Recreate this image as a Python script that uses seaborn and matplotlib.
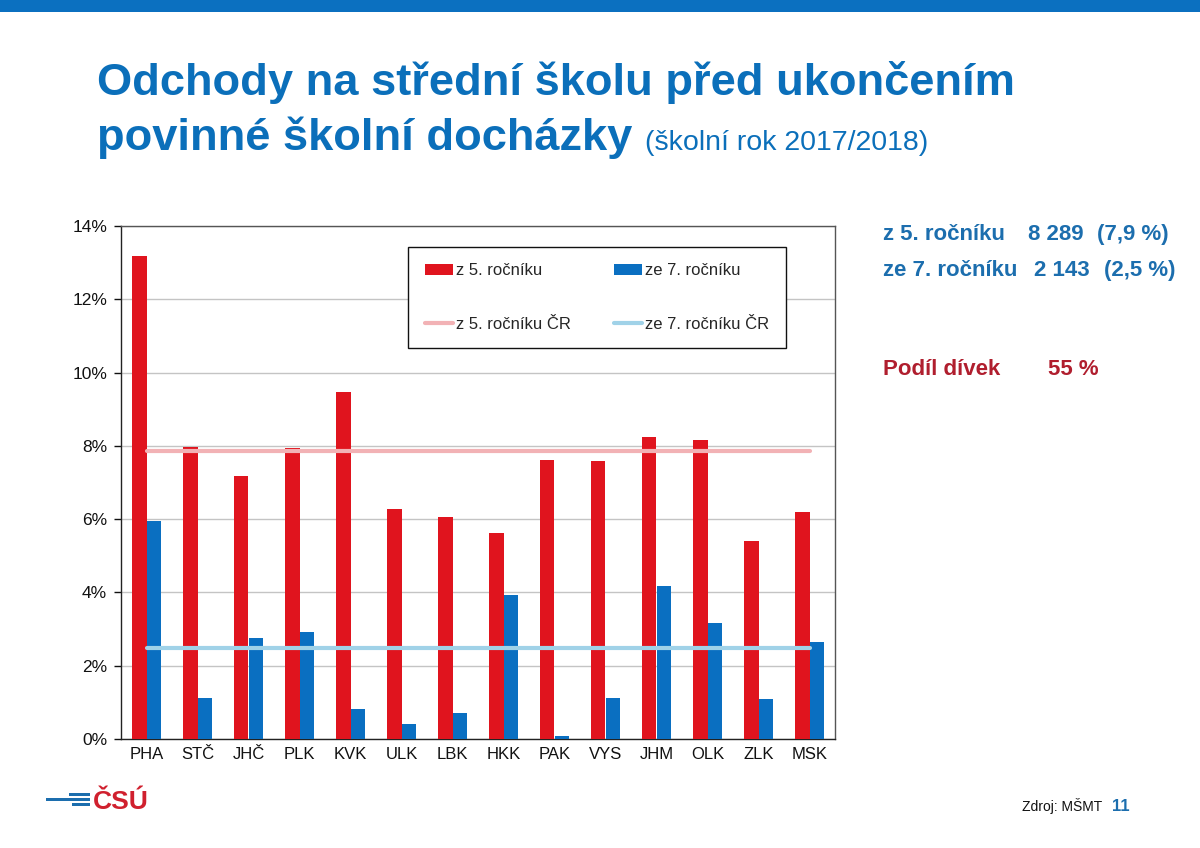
import numpy as np
import pandas as pd
import matplotlib
matplotlib.use('Agg')
import matplotlib.pyplot as plt
from matplotlib.patches import Rectangle, Patch
from matplotlib.lines import Line2D
import matplotlib.ticker as mticker
import seaborn as sns

# --- data ---
regions = ['PHA', 'STČ', 'JHČ', 'PLK', 'KVK', 'ULK', 'LBK',
           'HKK', 'PAK', 'VYS', 'JHM', 'OLK', 'ZLK', 'MSK']
z5 = [13.18, 7.96, 7.18, 7.94, 9.47, 6.27, 6.07,
      5.62, 7.62, 7.60, 8.24, 8.16, 5.40, 6.20]
ze7 = [5.96, 1.12, 2.76, 2.92, 0.81, 0.41, 0.71,
       3.93, 0.07, 1.11, 4.17, 3.17, 1.08, 2.65]
cr_z5 = 7.87
cr_ze7 = 2.47

series_names = ['z 5. ročníku', 'ze 7. ročníku']
line_names = ['z 5. ročníku ČR', 'ze 7. ročníku ČR']
y_ticks = [0, 2, 4, 6, 8, 10, 12, 14]

RED = '#E0141E'
BLUE = '#0A6FC1'
PINK = '#F2B2B5'
LBLUE = '#A0D2E8'
TITLE_BLUE = '#0B6FBA'
TXT_BLUE = '#1C6EAE'
DARK_RED = '#B01E2E'

df = pd.DataFrame({
    'kraj': regions * 2,
    'hodnota': z5 + ze7,
    'serie': [series_names[0]] * len(regions) + [series_names[1]] * len(regions),
})

sns.set_theme(style='white')
plt.rcParams['font.family'] = ['Liberation Sans', 'DejaVu Sans']

W, H = 1200, 848
fig = plt.figure(figsize=(W / 100, H / 100), dpi=100)
ax = fig.add_axes([121 / W, 1 - 739 / H, (835 - 121) / W, (739 - 226) / H])

sns.barplot(data=df, x='kraj', y='hodnota', hue='serie', order=regions,
            hue_order=series_names, palette=[RED, BLUE], width=0.57,
            saturation=1, linewidth=0, edgecolor='none',
            ax=ax, legend=False, zorder=3)

# national averages (ČR)
xs = np.arange(len(regions))
ax.plot(xs, [cr_z5] * len(regions), color=PINK, lw=3, zorder=4)
ax.plot(xs, [cr_ze7] * len(regions), color=LBLUE, lw=3, zorder=4)

ax.set_xlim(-0.5, len(regions) - 0.5)
ax.set_ylim(0, 14)
ax.set_yticks(y_ticks)
ax.yaxis.set_major_formatter(mticker.FuncFormatter(lambda v, p: f'{v:.0f}%'))
ax.yaxis.grid(True, color='#C4C4C4', lw=1, zorder=0)
ax.set_axisbelow(True)
ax.set_xlabel('')
ax.set_ylabel('')
ax.tick_params(axis='x', which='major', length=0, labelsize=12, pad=6, colors='#111111')
ax.set_xticks(np.arange(-0.5, len(regions), 1), minor=True)
ax.tick_params(axis='x', which='minor', length=5, width=1, direction='out', color='#333333')
ax.tick_params(axis='y', length=5, width=1, direction='out', labelsize=12.5,
               colors='#111111', left=True, pad=5)
for side in ['left', 'bottom']:
    ax.spines[side].set_color('#222222')
    ax.spines[side].set_linewidth(1)
for side in ['top', 'right']:
    ax.spines[side].set_color('#555555')
    ax.spines[side].set_linewidth(1)

handles = [Patch(facecolor=RED, edgecolor='none'),
           Line2D([], [], color=PINK, lw=3),
           Patch(facecolor=BLUE, edgecolor='none'),
           Line2D([], [], color=LBLUE, lw=3)]
labels = [series_names[0], line_names[0], series_names[1], line_names[1]]
leg = ax.legend(handles, labels, ncol=2, loc='center',
                bbox_to_anchor=(0.402, 0.756, 0.529, 0.209), mode='expand',
                borderaxespad=0, fontsize=12, frameon=True, fancybox=False,
                framealpha=1, edgecolor='#111111', handlelength=1.7,
                handletextpad=0.15, labelspacing=2.3, borderpad=1.0,
                columnspacing=1.0)
leg.get_frame().set_linewidth(1)

# top band and titles
fig.patches.append(Rectangle((0, 1 - 12 / H), 1, 12 / H, transform=fig.transFigure,
                             facecolor='#0B70C0', linewidth=0, zorder=5))
fig.text(97 / W, 1 - 95 / H, 'Odchody na střední školu před ukončením',
         fontsize=32.6, fontweight='bold', color=TITLE_BLUE, va='baseline')
t2 = fig.text(97 / W, 1 - 150 / H, 'povinné školní docházky',
              fontsize=32.6, fontweight='bold', color=TITLE_BLUE, va='baseline')
fig.canvas.draw()
bb = t2.get_window_extent(fig.canvas.get_renderer())
fig.text((bb.x1 + 13) / W, 1 - 150 / H, '(školní rok 2017/2018)',
         fontsize=20.5, color=TITLE_BLUE, va='baseline')

# right side summary
fs = 16
fig.text(883 / W, 1 - 240 / H, 'z 5. ročníku', fontsize=fs, fontweight='bold',
         color=TXT_BLUE, va='baseline')
fig.text(1028 / W, 1 - 240 / H, '8 289', fontsize=fs, fontweight='bold',
         color=TXT_BLUE, va='baseline')
fig.text(1097 / W, 1 - 240 / H, '(7,9 %)', fontsize=fs, fontweight='bold',
         color=TXT_BLUE, va='baseline')
fig.text(883 / W, 1 - 276 / H, 'ze 7. ročníku', fontsize=fs, fontweight='bold',
         color=TXT_BLUE, va='baseline')
fig.text(1034 / W, 1 - 276 / H, '2 143', fontsize=fs, fontweight='bold',
         color=TXT_BLUE, va='baseline')
fig.text(1104 / W, 1 - 276 / H, '(2,5 %)', fontsize=fs, fontweight='bold',
         color=TXT_BLUE, va='baseline')
fig.text(883 / W, 1 - 375 / H, 'Podíl dívek', fontsize=fs, fontweight='bold',
         color=DARK_RED, va='baseline')
fig.text(1048 / W, 1 - 375 / H, '55 %', fontsize=fs, fontweight='bold',
         color=DARK_RED, va='baseline')

# footer: logo and source
for (x0, y0, w, h) in [(69, 792.5, 21, 3.5), (46, 797.5, 44, 3.5), (72, 802.5, 18, 3.5)]:
    fig.patches.append(Rectangle((x0 / W, 1 - (y0 + h) / H), w / W, h / H,
                                 transform=fig.transFigure, facecolor='#1C6EAE',
                                 linewidth=0))
fig.text(93 / W, 1 - 809 / H, 'ČSÚ', fontsize=19, fontweight='bold',
         color='#D0202E', va='baseline')
fig.text(1022 / W, 1 - 811 / H, 'Zdroj: MŠMT', fontsize=10, color='#111111',
         va='baseline')
fig.text(1112 / W, 1 - 811 / H, '11', fontsize=12, fontweight='bold',
         color=TXT_BLUE, va='baseline')

fig.savefig('out.png', dpi=100)
